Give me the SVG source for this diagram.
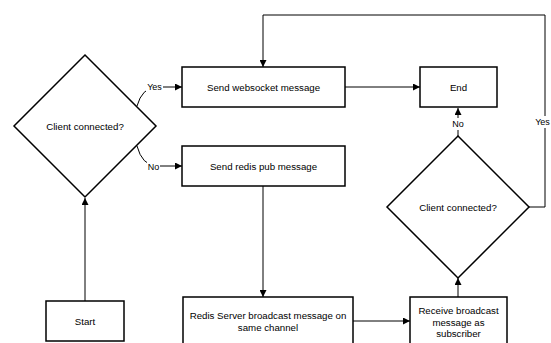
<svg xmlns="http://www.w3.org/2000/svg" width="551" height="343" viewBox="0 0 551 343">
<style>
.shape{fill:#fff;stroke:#000;stroke-width:1.5}
.edge{fill:none;stroke:#000;stroke-width:1}
text{font-family:"Liberation Sans",Arial,sans-serif;font-size:9.7px;fill:#000;text-anchor:middle;dominant-baseline:central}
.lbl{font-size:9px}
.lblbg{fill:#fff;stroke:none}
</style>
<defs>
<marker id="arr" viewBox="0 0 10 10" refX="10" refY="5" markerWidth="7" markerHeight="7" markerUnits="userSpaceOnUse" orient="auto">
<path d="M0,0 L10,5 L0,10 Z" fill="#000"/>
</marker>
</defs>
<rect width="551" height="343" fill="#fff"/>
<g id="connectors">
<path class="edge" d="M85,301 L85,198" marker-end="url(#arr)"/>
<path class="edge" d="M137,106 Q142,88 156,87 L182,87" marker-end="url(#arr)"/>
<path class="edge" d="M137,146 Q142,165 156,166 L182,166" marker-end="url(#arr)"/>
<path class="edge" d="M345,87 L420,87" marker-end="url(#arr)"/>
<path class="edge" d="M263,186 L263,297" marker-end="url(#arr)"/>
<path class="edge" d="M353,321 L410,321" marker-end="url(#arr)"/>
<path class="edge" d="M458,297 L458,278" marker-end="url(#arr)"/>
<path class="edge" d="M458,136 L458,108" marker-end="url(#arr)"/>
<path class="edge" d="M529,207 L545,207 L545,15 L263,15 L263,67" marker-end="url(#arr)"/>
<rect class="lblbg" x="146" y="81" width="17" height="12"/>
<text class="lbl" x="154.5" y="87">Yes</text>
<rect class="lblbg" x="147" y="160" width="13" height="12"/>
<text class="lbl" x="153.5" y="166.5">No</text>
<rect class="lblbg" x="452" y="118" width="13" height="12"/>
<text class="lbl" x="458" y="124">No</text>
<rect class="lblbg" x="534" y="116" width="17" height="12"/>
<text class="lbl" x="542.5" y="122">Yes</text>
</g>
<g id="decision1">
<polygon class="shape" points="85,55 156,126 85,197 14,126"/>
<text x="85" y="126">Client connected?</text>
</g>
<g id="start">
<rect class="shape" x="46" y="301" width="78" height="40"/>
<text x="85" y="321">Start</text>
</g>
<g id="send-websocket">
<rect class="shape" x="182" y="67" width="163" height="40"/>
<text x="263.5" y="87">Send websocket message</text>
</g>
<g id="send-redis">
<rect class="shape" x="182" y="146" width="163" height="40"/>
<text x="263.5" y="166">Send redis pub message</text>
</g>
<g id="end">
<rect class="shape" x="420" y="67" width="77" height="40"/>
<text x="458.5" y="87">End</text>
</g>
<g id="decision2">
<polygon class="shape" points="458,136 529,207 458,278 387,207"/>
<text x="458" y="207">Client connected?</text>
</g>
<g id="redis-server">
<rect class="shape" x="183" y="297" width="170" height="50"/>
<text x="268" y="315">Redis Server broadcast message on</text>
<text x="268" y="327.5">same channel</text>
</g>
<g id="receive">
<rect class="shape" x="410" y="297" width="97" height="50"/>
<text x="458.5" y="310">Receive broadcast</text>
<text x="458.5" y="322">message as</text>
<text x="458.5" y="333.5">subscriber</text>
</g>
</svg>
